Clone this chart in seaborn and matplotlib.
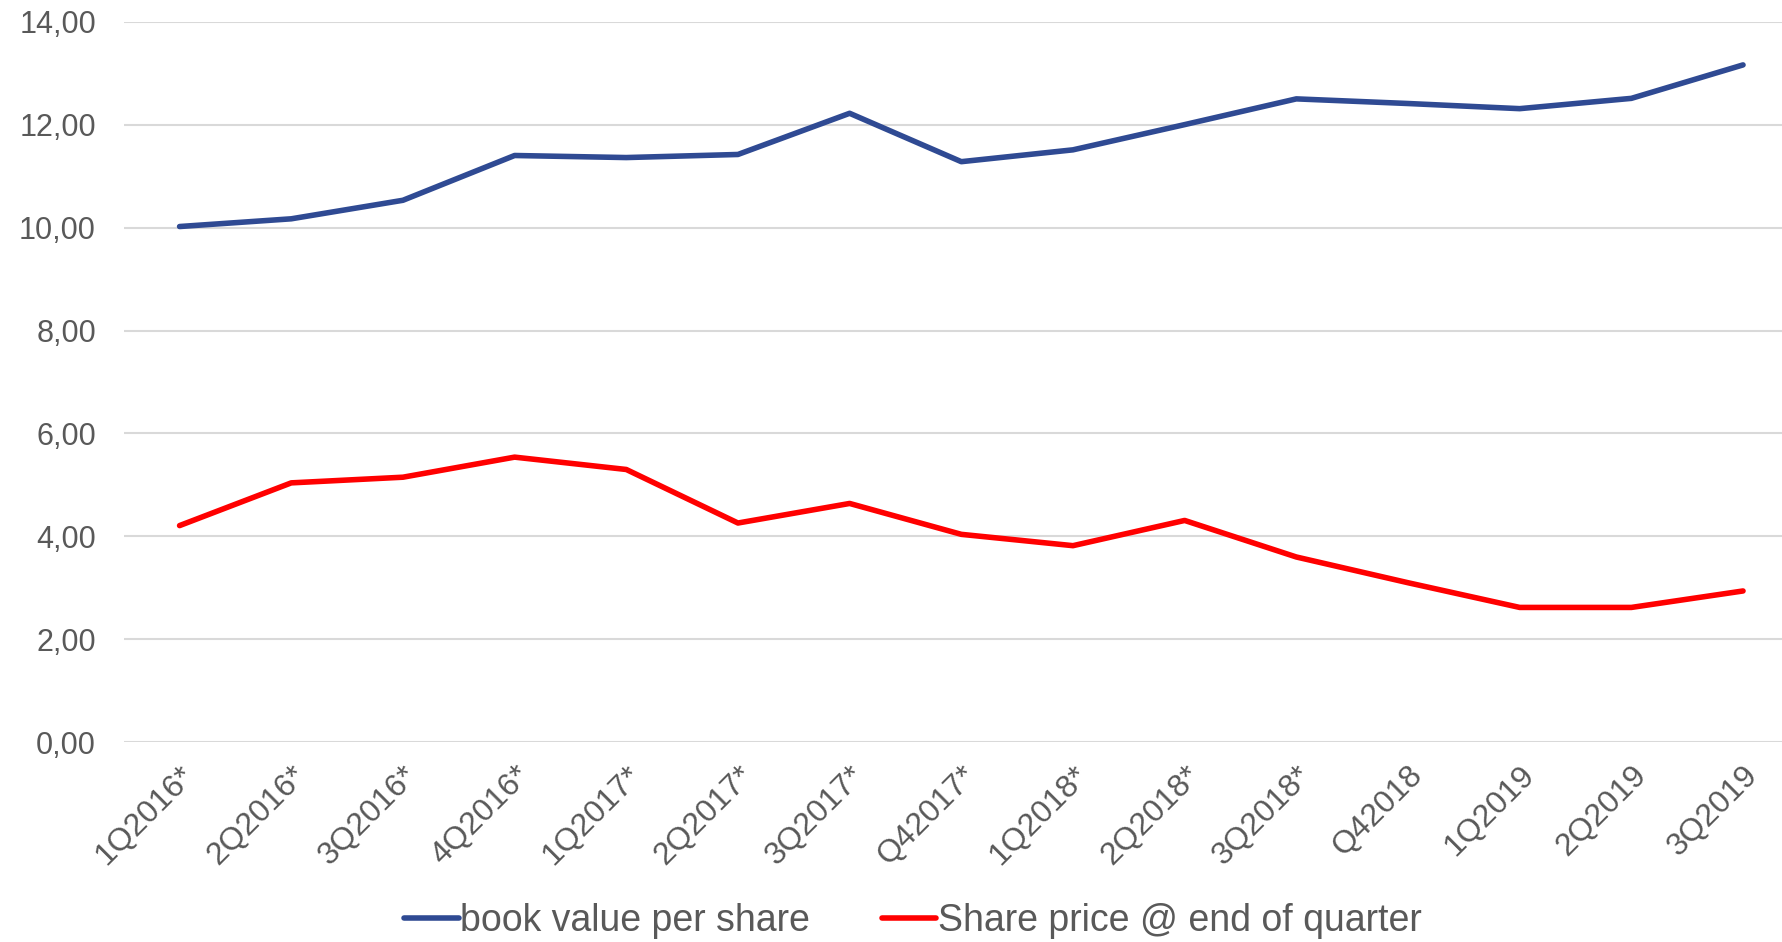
import matplotlib
matplotlib.use('Agg')
import matplotlib.pyplot as plt
import seaborn as sns
import pandas as pd
from matplotlib.ticker import FuncFormatter

quarters = ['1Q2016*', '2Q2016*', '3Q2016*', '4Q2016*', '1Q2017*', '2Q2017*',
            '3Q2017*', 'Q42017*', '1Q2018*', '2Q2018*', '3Q2018*', 'Q42018',
            '1Q2019', '2Q2019', '3Q2019']
book_value = [10.02, 10.17, 10.53, 11.40, 11.36, 11.42, 12.22, 11.28, 11.51,
              12.00, 12.50, 12.41, 12.31, 12.51, 13.16]
share_price = [4.21, 5.04, 5.15, 5.54, 5.30, 4.26, 4.64, 4.04, 3.82, 4.31,
               3.60, 3.10, 2.62, 2.62, 2.94]

series_names = ['book value per share', 'Share price @ end of quarter']
colors = ['#2F4A93', '#FF0000']

df = pd.DataFrame({
    'quarter': quarters * 2,
    'value': book_value + share_price,
    'series': [series_names[0]] * len(quarters) + [series_names[1]] * len(quarters),
})

sns.set_theme(style='white')
plt.rcParams['font.family'] = ['Liberation Sans', 'DejaVu Sans']

fig = plt.figure(figsize=(17.83, 9.42), dpi=100)
# the category axis runs a little past the right edge of the picture
ax = fig.add_axes([0.0694, 0.212, 0.9395, 0.765])

sns.lineplot(data=df, x='quarter', y='value', hue='series', palette=colors,
             linewidth=4.0, ax=ax, sort=False, legend=False)

ax.set_xlim(-0.5, len(quarters) - 0.5)
ax.set_ylim(0, 14)
ax.set_yticks(range(0, 15, 2))
ax.yaxis.set_major_formatter(FuncFormatter(lambda v, p: f'{v:.2f}'.replace('.', ',')))
ax.grid(axis='y', color='#D9D9D9', linewidth=1.5)
ax.set_axisbelow(True)
for s in ax.spines.values():
    s.set_visible(False)
ax.set_xlabel('')
ax.set_ylabel('')
ax.tick_params(axis='y', length=0, pad=20, labelsize=22, labelcolor='#595959')
ax.tick_params(axis='x', length=0, pad=13, labelsize=23, labelcolor='#595959')
ax.set_xticks(range(len(quarters)))
ax.set_xticklabels(quarters, rotation=45, ha='right', rotation_mode='anchor')

handles = [plt.Line2D([], [], color=c, linewidth=4.0) for c in colors]
fig.legend(handles, series_names, loc='center', bbox_to_anchor=(0.512, 0.022),
           ncol=2, frameon=False, fontsize=27, handlelength=1.45,
           handletextpad=0.05, columnspacing=1.9, labelcolor='#595959')

fig.savefig('out.png', dpi=100)
